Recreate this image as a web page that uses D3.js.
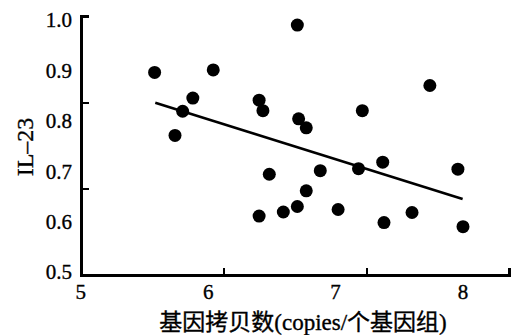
<!DOCTYPE html>
<html>
<head>
<meta charset="utf-8">
<script src="https://cdn.jsdelivr.net/npm/d3@7"></script>
<style>
  body { margin: 0; background: #fff; }
  svg { display: block; }
  text { fill: #000; stroke: #000; stroke-width: 0.35px; }
</style>
</head>
<body>
<div id="chart"></div>
<script>
// copy number (x) vs IL-23 (y)
var copies = [5.58, 6.04, 5.88, 5.80, 5.74, 6.40, 6.43, 6.70, 6.71, 6.77, 7.21, 7.74, 6.48,
              6.88, 7.18, 7.37, 7.96, 6.77, 6.70, 6.59, 6.40, 7.02, 7.60, 7.38, 8.00];
var il23   = [0.896, 0.901, 0.845, 0.819, 0.771, 0.841, 0.820, 0.990, 0.804, 0.786, 0.820, 0.870, 0.694,
              0.701, 0.705, 0.718, 0.704, 0.661, 0.630, 0.619, 0.611, 0.624, 0.618, 0.598, 0.590];

// fitted line end points
var fitX = [5.585, 7.997];
var fitY = [0.836, 0.645];

var xTicks = [5, 6, 7, 8];
var yTicks = [0.5, 0.6, 0.7, 0.8, 0.9, 1.0];

var width = 511, height = 335;
var serif = "'Liberation Serif', 'DejaVu Serif', serif";

var svg = d3.select("#chart").append("svg")
    .attr("width", width)
    .attr("height", height);

// value scales (labels and points)
var x = d3.scaleLinear().domain([5, 8]).range([80.7, 463]);
var y = d3.scaleLinear().domain([0.5, 1.0]).range([272, 20]);

// the frame: axis lines with their own evenly spaced marks
var fx = d3.scaleLinear().domain([0, 3]).range([81, 509]);
var fy = d3.scaleLinear().domain([0, 3]).range([275, 16]);

var gx = svg.append("g")
    .attr("transform", "translate(0," + fy(0) + ")")
    .call(d3.axisBottom(fx).tickValues([1, 2, 3]).tickSizeInner(-7).tickSizeOuter(0).tickFormat(""));
var gy = svg.append("g")
    .attr("transform", "translate(" + fx(0) + ",0)")
    .call(d3.axisLeft(fy).tickValues([1, 2, 3]).tickSizeInner(-8).tickSizeOuter(0).tickFormat(""));

[gx, gy].forEach(function(g) {
    g.selectAll("path, line")
        .attr("stroke", "#000")
        .attr("stroke-width", 2.2)
        .attr("shape-rendering", "crispEdges");
});
gx.select(".domain").attr("stroke-linecap", "square");
gy.select(".domain").attr("stroke-linecap", "square");

// tick labels
svg.append("g").selectAll("text")
    .data(xTicks)
    .enter().append("text")
    .attr("x", function(d) { return x(d); })
    .attr("y", 292)
    .attr("dy", "0.35em")
    .attr("text-anchor", "middle")
    .style("font-family", serif)
    .style("font-size", "21px")
    .text(function(d) { return d; });

svg.append("g").selectAll("text")
    .data(yTicks)
    .enter().append("text")
    .attr("x", 72)
    .attr("y", function(d) { return y(d); })
    .attr("dy", "0.35em")
    .attr("text-anchor", "end")
    .style("font-family", serif)
    .style("font-size", "21px")
    .text(function(d) { return d.toFixed(1); });

// axis titles
svg.append("text")
    .attr("x", 303)
    .attr("y", 322)
    .attr("dy", "0.35em")
    .attr("text-anchor", "middle")
    .style("font-family", serif + ", 'Noto Sans CJK SC'")
    .style("font-size", "23px")
    .text("基因拷贝数(copies/个基因组)");

svg.append("text")
    .attr("transform", "translate(25,147) rotate(-90)")
    .attr("dy", "0.35em")
    .attr("text-anchor", "middle")
    .style("font-family", serif)
    .style("font-size", "24px")
    .text("IL–23");

// fitted line
svg.append("line")
    .attr("x1", x(fitX[0])).attr("y1", y(fitY[0]))
    .attr("x2", x(fitX[1])).attr("y2", y(fitY[1]))
    .attr("stroke", "#000")
    .attr("stroke-width", 2.6);

// points
svg.append("g").selectAll("circle")
    .data(copies)
    .enter().append("circle")
    .attr("cx", function(d) { return x(d); })
    .attr("cy", function(d, i) { return y(il23[i]); })
    .attr("r", 6.5)
    .attr("fill", "#000");
</script>
</body>
</html>
